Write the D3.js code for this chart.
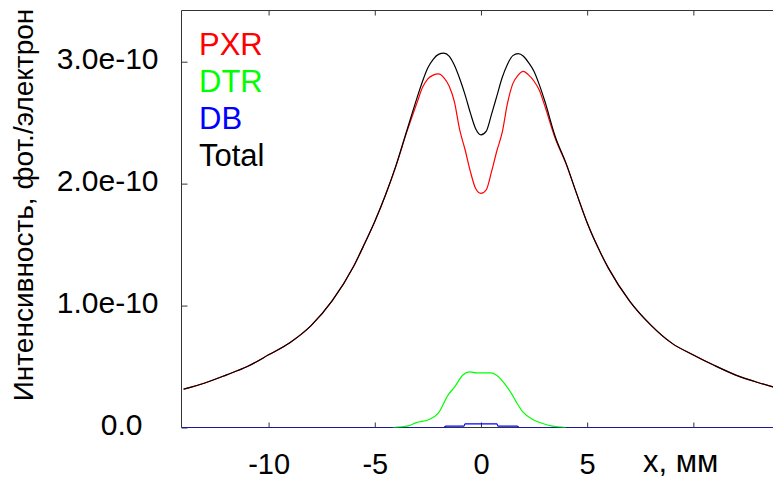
<!DOCTYPE html>
<html>
<head>
<meta charset="utf-8">
<script src="https://cdn.jsdelivr.net/npm/d3@7"></script>
<style>
  body { margin: 0; background: #fff; }
  text { font-family: Arial, "Liberation Sans", sans-serif; }
</style>
</head>
<body>
<div id="chart"></div>
<script>
// values in units of 1e-10 photons per electron, x in mm
var xs = [-14, -13, -12, -11, -10, -9, -8, -7, -6, -5.5, -5, -4.5, -4, -3.5, -3, -2.75, -2.5, -2.25, -2, -1.75,
          -1.5, -1.25, -1, -0.75, -0.5, -0.25, 0, 0.25, 0.5, 0.75, 1, 1.25, 1.5, 1.75, 2, 2.25, 2.5, 2.75,
          3, 3.5, 4, 4.5, 5, 5.5, 6, 7, 8, 9, 10, 11, 12, 13, 13.75];
var total = [0.314, 0.365, 0.43, 0.50, 0.596, 0.696, 0.836, 1.04, 1.32, 1.50, 1.69, 1.905, 2.15, 2.43, 2.71, 2.84, 2.95, 3.02, 3.06, 3.07,
             3.045, 2.97, 2.86, 2.73, 2.58, 2.45, 2.40, 2.43, 2.57, 2.72, 2.87, 2.98, 3.05, 3.066, 3.045, 2.99, 2.92, 2.81,
             2.68, 2.385, 2.17, 1.92, 1.68, 1.48, 1.307, 1.037, 0.84, 0.69, 0.595, 0.508, 0.43, 0.371, 0.333];
var pxr = [0.314, 0.365, 0.43, 0.50, 0.596, 0.696, 0.836, 1.04, 1.32, 1.50, 1.69, 1.905, 2.145, 2.42, 2.67, 2.79, 2.86, 2.89, 2.90, 2.87,
           2.80, 2.67, 2.44, 2.28, 2.10, 1.96, 1.92, 1.95, 2.10, 2.27, 2.42, 2.66, 2.82, 2.89, 2.92, 2.89, 2.84, 2.765,
           2.64, 2.37, 2.165, 1.92, 1.68, 1.48, 1.307, 1.037, 0.84, 0.69, 0.595, 0.508, 0.43, 0.371, 0.333];

var dtrX = [-4.14, -3.43, -3.04, -2.41, -2.02, -1.55, -1.24, -0.85, -0.53, -0.22, 0.49, 0.72, 1.11, 1.43, 1.66, 1.97, 2.44, 2.91, 3.31, 4.0];
var dtr = [0, 0.013, 0.04, 0.068, 0.115, 0.265, 0.333, 0.43, 0.456, 0.448, 0.448, 0.43, 0.36, 0.28, 0.21, 0.128, 0.066, 0.033, 0.013, 0];

var dbX = [-14.1, -1.75, -1.65, -0.8, -0.75, 0.75, 0.8, 1.7, 1.8, 13.75];
var db = [0, 0, 0.012, 0.012, 0.03, 0.03, 0.012, 0.012, 0, 0];

var xTicks = [-10, -5, 0, 5, 10];
var xTickLabels = ["-10", "-5", "0", "5", ""];
var yTicks = [0, 1, 2, 3];
var yTickLabels = ["0.0", "1.0e-10", "2.0e-10", "3.0e-10"];

var legendLabels = ["PXR", "DTR", "DB", "Total"];
var legendColors = ["#ff0000", "#00ff00", "#0000ff", "#000000"];

var w = 773;
var h = 479;
var plotLeft = 181.5, plotTop = 10.5, plotBottom = 427.5;

var xScale = d3.scaleLinear()
    .domain([-14.1, 13.75])
    .range([plotLeft, w]);

var yScale = d3.scaleLinear()
    .domain([0, 3.42])
    .range([plotBottom, plotTop]);

var svg = d3.select("#chart")
    .append("svg")
    .attr("width", w)
    .attr("height", h);

svg.append("defs").append("clipPath")
    .attr("id", "plotclip")
    .append("rect")
    .attr("x", plotLeft)
    .attr("y", plotTop)
    .attr("width", w - plotLeft)
    .attr("height", plotBottom - plotTop);

// frame
var frame = "#333";
svg.append("line").attr("x1", plotLeft).attr("x2", w).attr("y1", plotTop).attr("y2", plotTop).attr("stroke", frame);
svg.append("line").attr("x1", plotLeft).attr("x2", plotLeft).attr("y1", plotTop).attr("y2", plotBottom).attr("stroke", frame);
svg.append("line").attr("x1", plotLeft).attr("x2", w).attr("y1", plotBottom).attr("y2", plotBottom).attr("stroke", frame);

// bottom axis, ticks inward
var xAxis = d3.axisBottom(xScale)
    .tickValues(xTicks)
    .tickSizeInner(-5)
    .tickSizeOuter(0)
    .tickPadding(26)
    .tickFormat(function(d, i) { return xTickLabels[i]; });

var gx = svg.append("g")
    .attr("transform", "translate(0," + plotBottom + ")")
    .call(xAxis);
gx.select(".domain").remove();
gx.selectAll("line").attr("stroke", frame);
gx.selectAll("text").attr("font-size", 29).attr("fill", "#000");

// top axis mirror ticks
var gxt = svg.append("g")
    .attr("transform", "translate(0," + plotTop + ")")
    .call(d3.axisTop(xScale).tickValues(xTicks).tickSizeInner(-5).tickSizeOuter(0).tickFormat(""));
gxt.select(".domain").remove();
gxt.selectAll("line").attr("stroke", frame);

// left axis
var yAxis = d3.axisLeft(yScale)
    .tickValues(yTicks)
    .tickSizeInner(-6)
    .tickSizeOuter(0)
    .tickPadding(23)
    .tickFormat(function(d, i) { return yTickLabels[i]; });

var gy = svg.append("g")
    .attr("transform", "translate(" + plotLeft + ",0)")
    .call(yAxis);
gy.select(".domain").remove();
gy.selectAll("line").attr("stroke", frame);
gy.selectAll("text")
    .attr("font-size", 30)
    .attr("fill", "#000")
    .attr("dy", "0.22em")
    .attr("dx", function(d) { return d === 0 ? -16 : 0; });

// axis titles
svg.append("text")
    .attr("x", 643)
    .attr("y", 472)
    .attr("font-size", 31)
    .attr("fill", "#000")
    .text("x, мм");

svg.append("text")
    .attr("transform", "translate(33,205) rotate(-90)")
    .attr("text-anchor", "middle")
    .attr("font-size", 28)
    .attr("fill", "#000")
    .text("Интенсивность, фот./электрон");

// curves
var plot = svg.append("g").attr("clip-path", "url(#plotclip)");

function drawLine(xv, yv, color) {
    var line = d3.line()
        .x(function(d, i) { return xScale(xv[i]); })
        .y(function(d) { return yScale(d); })
        .curve(d3.curveMonotoneX);
    plot.append("path")
        .datum(yv)
        .attr("d", line)
        .attr("fill", "none")
        .attr("stroke", color)
        .attr("stroke-width", 1.2);
}

drawLine(dbX, db, legendColors[2]);
drawLine(xs, pxr, legendColors[0]);
drawLine(dtrX, dtr, legendColors[1]);
drawLine(xs, total, legendColors[3]);

// legend
svg.selectAll("text.legend")
    .data(legendLabels)
    .enter()
    .append("text")
    .attr("class", "legend")
    .attr("x", 199)
    .attr("y", function(d, i) { return 55 + i * 37; })
    .attr("font-size", 31)
    .attr("fill", function(d, i) { return legendColors[i]; })
    .text(function(d) { return d; });
</script>
</body>
</html>
